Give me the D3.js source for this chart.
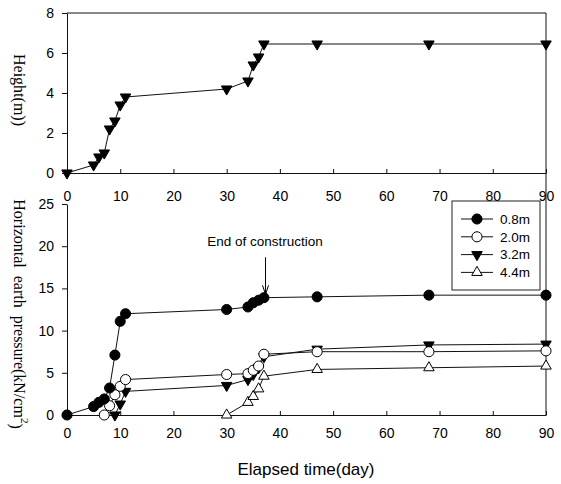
<!DOCTYPE html>
<html>
<head>
<meta charset="utf-8">
<script src="https://cdn.jsdelivr.net/npm/d3@7"></script>
<style>
  body { margin: 0; background: #fff; }
  svg { display: block; font-family: "Liberation Sans", Arial, sans-serif; }
  .axis text { font-size: 14px; fill: #000; }
  .axis path, .axis line { stroke: #111; }
</style>
</head>
<body>
<svg id="chart" width="561" height="484"></svg>
<script>
// construction height (top panel)
const heightDays = [0, 5, 6, 7, 8, 9, 10, 11, 30, 34, 35, 36, 37, 47, 68, 90];
const heightVals = [0, 0.4, 0.8, 1.0, 2.2, 2.6, 3.4, 3.8, 4.2, 4.6, 5.4, 5.8, 6.45, 6.45, 6.45, 6.45];

// horizontal earth pressure at each depth (bottom panel)
const days08 = [0, 5, 6, 7, 8, 9, 10, 11, 30, 34, 35, 36, 37, 47, 68, 90];
const vals08 = [0, 1.0, 1.5, 1.9, 3.2, 7.1, 11.1, 12.0, 12.5, 12.8, 13.3, 13.6, 13.9, 14.0, 14.2, 14.2];
const days20 = [7, 8, 9, 10, 11, 30, 34, 35, 36, 37, 47, 68, 90];
const vals20 = [0, 1.1, 2.4, 3.4, 4.2, 4.8, 4.9, 5.3, 5.8, 7.2, 7.5, 7.5, 7.6];
const days32 = [9, 10, 11, 30, 34, 35, 36, 37, 47, 68, 90];
const vals32 = [0, 1.3, 2.8, 3.5, 4.2, 4.8, 5.6, 6.9, 7.8, 8.3, 8.4];
const days44 = [30, 34, 35, 36, 37, 47, 68, 90];
const vals44 = [0, 1.5, 2.2, 3.1, 4.6, 5.4, 5.6, 5.8];

const seriesNames = ['0.8m', '2.0m', '3.2m', '4.4m'];
const seriesMarkers = ['circleFilled', 'circleOpen', 'triDownFilled', 'triUpOpen'];

const xTicks = [0, 10, 20, 30, 40, 50, 60, 70, 80, 90];
const heightTicks = [0, 2, 4, 6, 8];
const pressureTicks = [0, 5, 10, 15, 20, 25];

const endDay = 37.3, endValue = 14.3;

const svg = d3.select('#chart');
const x = d3.scaleLinear().domain([0, 90]).range([67, 546]);
const yTop = d3.scaleLinear().domain([0, 8]).range([173, 13]);
const yBot = d3.scaleLinear().domain([0, 25]).range([415, 204]);

const circleSym = d3.symbol().type(d3.symbolCircle).size(80)();
const triSym = d3.symbol().type(d3.symbolTriangle).size(48)();

function drawMarker(sel, kind) {
  const isCircle = kind.startsWith('circle');
  const filled = kind.endsWith('Filled');
  sel.append('path')
    .attr('d', isCircle ? circleSym : triSym)
    .attr('transform', kind === 'triDownFilled' ? 'rotate(180)' : null)
    .attr('fill', filled ? '#000' : '#fff')
    .attr('stroke', '#000')
    .attr('stroke-width', 1);
}

function plotSeries(days, vals, yScale, kind) {
  const pts = days.map((d, i) => [d, vals[i]]);
  const line = d3.line().x(d => x(d[0])).y(d => yScale(d[1]));
  svg.append('path').datum(pts)
    .attr('d', line).attr('fill', 'none').attr('stroke', '#111').attr('stroke-width', 1);
  const g = svg.append('g').selectAll('g').data(pts).join('g')
    .attr('transform', d => `translate(${x(d[0])},${yScale(d[1])})`);
  drawMarker(g, kind);
}

// ---- top panel ----
svg.append('g').attr('class', 'axis').attr('transform', 'translate(0,173)')
  .call(d3.axisBottom(x).tickValues(xTicks).tickSizeInner(-4).tickSizeOuter(0).tickPadding(18));
svg.append('g').attr('class', 'axis').attr('transform', 'translate(67,0)')
  .call(d3.axisLeft(yTop).tickValues(heightTicks).tickSizeInner(5).tickSizeOuter(0).tickPadding(8));
svg.append('line').attr('x1', x(0)).attr('x2', x(90)).attr('y1', yTop(8)).attr('y2', yTop(8)).attr('stroke', '#111');
svg.append('line').attr('x1', x(90)).attr('x2', x(90)).attr('y1', yTop(8)).attr('y2', yBot(0)).attr('stroke', '#111');

plotSeries(heightDays, heightVals, yTop, 'triDownFilled');

// ---- bottom panel ----
svg.append('g').attr('class', 'axis').attr('transform', 'translate(0,415)')
  .call(d3.axisBottom(x).tickValues(xTicks).tickSizeInner(-4).tickSizeOuter(0).tickPadding(13));
svg.append('g').attr('class', 'axis').attr('transform', 'translate(67,0)')
  .call(d3.axisLeft(yBot).tickValues(pressureTicks).tickSizeInner(5).tickSizeOuter(0).tickPadding(8));

plotSeries(days44, vals44, yBot, 'triUpOpen');
plotSeries(days32, vals32, yBot, 'triDownFilled');
plotSeries(days20, vals20, yBot, 'circleOpen');
plotSeries(days08, vals08, yBot, 'circleFilled');

// end of construction annotation
const ax = x(endDay), ay = yBot(endValue);
svg.append('line').attr('x1', ax).attr('x2', ax).attr('y1', ay - 37).attr('y2', ay).attr('stroke', '#000');
svg.append('path').attr('d', `M${ax - 3},${ay - 9}L${ax},${ay}L${ax + 3},${ay - 9}`)
  .attr('fill', 'none').attr('stroke', '#000');
svg.append('text').attr('x', 265).attr('y', ay - 48).attr('text-anchor', 'middle')
  .attr('font-size', '13.5px').text('End of construction');

// legend
const lg = svg.append('g').attr('transform', 'translate(452,201)');
lg.append('rect').attr('width', 88).attr('height', 89).attr('fill', '#fff').attr('stroke', '#222');
seriesNames.forEach((name, i) => {
  const row = lg.append('g').attr('transform', `translate(0,${18 + i * 17.8})`);
  row.append('line').attr('x1', 9).attr('x2', 41).attr('stroke', '#111');
  const m = row.append('g').attr('transform', 'translate(25,0)');
  drawMarker(m, seriesMarkers[i]);
  row.append('text').attr('x', 48).attr('dy', '0.36em').attr('font-size', '13.5px').text(name);
});

// axis titles
svg.append('text').attr('transform', 'translate(20,90) rotate(90)')
  .attr('text-anchor', 'middle').attr('dy', '0.35em')
  .style('font-family', '"Liberation Serif", "Times New Roman", serif').style('font-size', '16px')
  .text('Height(m))');
const yt = svg.append('text').attr('transform', 'translate(20,314) rotate(90)')
  .attr('text-anchor', 'middle').attr('dy', '0.35em')
  .style('font-family', '"Liberation Serif", "Times New Roman", serif').style('font-size', '16px')
  .attr('xml:space', 'preserve');
yt.append('tspan').text('Horizontal  earth  pressure(kN/cm');
yt.append('tspan').attr('dy', '-0.6em').style('font-size', '11px').text('2');
yt.append('tspan').attr('dy', '0.6em').text(')');

svg.append('text').attr('x', 306).attr('y', 475).attr('text-anchor', 'middle')
  .attr('font-size', '17px').text('Elapsed time(day)');
</script>
</body>
</html>
